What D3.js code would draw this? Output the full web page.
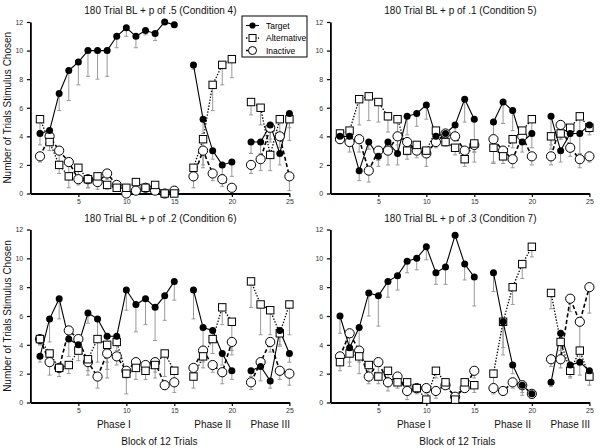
<!DOCTYPE html>
<html><head><meta charset="utf-8">
<script src="https://cdn.jsdelivr.net/npm/d3@7"></script>
<style>body{margin:0;background:#fff}svg{display:block;font-family:"Liberation Sans",Arial,sans-serif}</style>
</head><body><svg id="chart" width="600" height="448"></svg>
<script>
// ---------- data ----------
const blocks = [1,2,3,4,5,6,7,8,9,10,11,12,13,14,15,16,17,18,19,20,21,22,23,24,25];
const phaseOf = ["I","I","I","I","I","I","I","I","I","I","I","I","I","I","I","II","II","II","II","II","III","III","III","III","III"];
const phaseNames = ["Phase I","Phase II","Phase III"];
const xTickBlocks = [5,10,15,20,25];
const yTicks = [0,2,4,6,8,10,12];
const seriesNames = ["Target","Alternative","Inactive"];
const titles = ["180 Trial BL + p of .5 (Condition 4)","180 Trial BL + p of .1 (Condition 5)",
                "180 Trial BL + p of .2 (Condition 6)","180 Trial BL + p of .3 (Condition 7)"];

// Condition 4
const c4Target = [4.2,4.4,7.0,8.6,9.2,10.0,10.0,10.0,11.0,11.6,11.0,11.4,11.2,12.0,11.8, 9.0,5.2,3.0,2.0,2.2, 3.6,3.6,4.8,2.8,5.6];
const c4TargetErr = [0.8,0.8,1.2,2.1,1.6,1.8,2.0,1.8,0.8,0.6,0.8,0.3,0.5,0,0, 0.3,1.0,0.6,0.7,1.0, 0.8,0.8,1.0,0.8,1.0];
const c4Alt = [5.2,3.6,2.0,1.2,1.8,1.0,1.2,0.6,0.4,0.4,0.8,0.4,0.6,0,0, 1.8,3.8,7.6,9.0,9.4, 6.4,6.0,2.7,5.2,5.2];
const c4AltErr = [0.8,0.6,0.6,0.8,0.6,0.6,0.4,0.3,0.2,0.2,0.2,0.2,0.2,0,0, 0.5,1.8,1.8,1.4,1.3, 0.9,1.2,1.1,1.0,1.5];
const c4Inact = [2.6,4.0,3.0,2.2,1.0,1.0,0.8,1.4,0.6,0,0.2,0.4,0.2,0,0.2, 1.2,3.0,1.4,1.0,0.4, 2.0,2.4,4.6,4.0,1.2];
const c4InactErr = [0.4,0.5,0.8,0.9,0.4,0.6,0.5,0.4,0.3,0,0.1,0.1,0.1,0,0.1, 0.8,1.2,0.5,0.5,0.2, 0.6,0.8,1.0,0.8,1.0];

// Condition 5
const c5Target = [4.0,4.0,1.6,3.6,2.6,3.6,2.8,5.4,5.6,6.2,4.0,4.2,4.8,6.6,5.2, 5.0,6.4,5.8,3.6,4.2, 5.4,3.0,4.2,4.2,4.8];
const c5TargetErr = [0.5,0.5,0.7,0.5,0.7,0.8,0.8,1.3,0.9,1.0,0.4,0.3,1.1,1.6,3.0, 2.9,1.5,1.4,0.7,1.0, 2.3,0.8,0.8,1.4,0.5];
const c5Alt = [4.2,4.4,6.6,6.8,6.4,5.4,5.2,3.0,3.4,3.0,4.4,3.6,3.2,2.4,3.5, 3.2,2.6,3.8,4.4,5.2, 4.0,4.2,4.6,5.4,4.6];
const c5AltErr = [0.4,0.4,1.8,1.7,1.4,1.1,1.8,0.6,0.5,0.4,0.6,0.3,0.5,0.5,0.6, 1.1,0.5,0.6,0.6,0.8, 0.6,0.4,0.6,1.0,0.5];
const c5Inact = [3.8,3.6,3.8,1.6,3.0,3.0,4.0,3.6,3.0,2.8,3.6,4.2,4.0,3.0,3.4, 3.8,3.0,2.4,4.0,2.6, 2.6,4.8,3.2,2.4,2.6];
const c5InactErr = [0.3,0.7,0.9,0.8,0.7,1.0,1.2,0.9,0.5,0.9,0.4,0.3,0.3,0.6,0.5, 1.6,0.6,0.6,0.4,0.6, 0.6,1.0,0.6,0.6,0.4];

// Condition 6
const c6Target = [3.2,5.8,7.2,4.4,4.0,6.2,5.8,4.6,4.6,7.8,6.8,7.2,6.6,7.4,8.4, 7.8,5.2,5.0,3.4,2.2, 2.2,2.5,1.5,5.0,3.4];
const c6TargetErr = [0.4,1.6,1.4,1.2,0.6,0.7,1.2,1.8,0.4,1.4,1.9,1.8,2.3,1.7,1.3, 2.0,1.6,0.8,0.8,0.6, 0.4,1.0,0.5,1.0,0.6];
const c6Alt = [4.4,3.4,2.4,2.6,3.6,3.0,4.4,4.0,4.2,2.0,2.4,2.2,2.6,3.4,2.2, 1.8,3.2,4.4,6.6,5.6, 8.4,6.8,6.4,4.8,6.8];
const c6AltErr = [0.4,0.5,0.3,0.6,0.7,0.8,1.6,2.3,0.6,1.4,0.8,0.6,0.9,1.6,0.6, 0.8,0.8,1.0,1.2,2.0, 1.8,2.1,1.7,0.9,2.1];
const c6Inact = [4.4,2.8,2.4,5.0,4.4,2.8,1.8,3.4,3.2,2.2,2.8,2.6,2.8,1.2,1.4, 2.4,3.6,2.6,2.1,4.2, 1.4,2.8,4.2,2.2,2.0];
const c6InactErr = [0.4,0.9,0.6,0.5,0.5,0.9,0.8,1.1,0.6,0.5,0.6,0.6,0.7,0.3,0.7, 0.6,0.8,0.5,0.8,0.9, 0.5,0.5,0.7,0.6,0.8];

// Condition 7
const c7Target = [6.0,3.8,5.2,7.6,7.4,8.4,8.8,9.8,10.0,10.8,9.0,9.4,11.6,9.6,8.7, 9.0,5.6,2.6,1.2,0.6, 1.4,4.8,2.6,2.8,2.2];
const c7TargetErr = [1.2,1.3,1.5,1.6,2.1,1.1,1.0,0.8,0.8,0.9,0.8,1.2,0,1.1,2.0, 1.3,2.3,0.6,0.7,0.3, 0.3,1.2,0.8,0.9,0.5];
const c7Alt = [2.8,3.4,3.2,2.6,1.8,2.2,1.4,1.4,1.0,0.2,2.2,1.4,0.2,1.4,1.2, 2.0,5.6,8.0,9.6,10.8, 7.6,4.2,2.2,3.6,1.8];
const c7AltErr = [0.6,0.6,1.2,0.6,0.5,0.5,0.4,0.4,0.3,0.1,0.5,0.4,0.1,0.4,0.5, 0.8,1.8,1.2,1.0,0.7, 1.1,1.0,0.5,0.8,0.6];
const c7Inact = [3.2,4.8,3.6,1.8,2.8,1.4,1.8,0.8,1.0,1.0,0.8,1.2,0.4,1.0,2.2, 1.0,0.8,1.4,1.2,0.6, 3.0,3.0,7.2,5.6,8.0];
const c7InactErr = [0.5,0.8,0.8,0.5,0.7,0.6,0.5,0.6,0.4,0.4,0.5,0.3,0.1,0.3,0.5, 0.4,0.3,0.4,0.5,0.3, 0.5,0.6,0.9,1.9,1.8];

// ---------- build ----------
const panels = [
  {title: titles[0], s: [[c4Target,c4TargetErr],[c4Alt,c4AltErr],[c4Inact,c4InactErr]], col:0, row:0},
  {title: titles[1], s: [[c5Target,c5TargetErr],[c5Alt,c5AltErr],[c5Inact,c5InactErr]], col:1, row:0},
  {title: titles[2], s: [[c6Target,c6TargetErr],[c6Alt,c6AltErr],[c6Inact,c6InactErr]], col:0, row:1},
  {title: titles[3], s: [[c7Target,c7TargetErr],[c7Alt,c7AltErr],[c7Inact,c7InactErr]], col:1, row:1}
];

const svg = d3.select("#chart");
const phaseGap = {"I":0,"II":1,"III":2};
const xPos = b => b + phaseGap[phaseOf[b-1]];   // axis gap between phases
const lineStyles = [
  {dash:null, w:1.1},
  {dash:"1.4,1.6", w:1.3},
  {dash:"4,2.5", w:1.6}
];

panels.forEach(p => {
  const x0 = 30.4 + p.col*300;
  const x = d3.scaleLinear().domain([0, 27]).range([x0, x0 + 259]);
  const y = p.row === 0 ? d3.scaleLinear().domain([0,12]).range([193.5, 22])
                        : d3.scaleLinear().domain([0,12]).range([402.5, 229.5]);
  const g = svg.append("g");

  // axes
  const xAxis = d3.axisBottom(x).tickValues(xTickBlocks.map(xPos)).tickFormat((d,i) => xTickBlocks[i]).tickSize(3.5).tickSizeOuter(0);
  const yAxis = d3.axisLeft(y).tickValues(yTicks).tickSize(3.5).tickSizeOuter(0);
  const gx = g.append("g").attr("transform", `translate(0,${y(0)})`).call(xAxis);
  const gy = g.append("g").attr("transform", `translate(${x0},0)`).call(yAxis);
  [gx, gy].forEach(a => {
    a.select(".domain").attr("stroke", "#000").attr("stroke-width", 1.8);
    a.selectAll(".tick line").attr("stroke", "#000").attr("stroke-width", 1.2);
    a.selectAll(".tick text").attr("font-size", 7).attr("fill", "#333").attr("font-family", "Liberation Sans, Arial, sans-serif");
  });
  gx.selectAll(".tick text").attr("dy", "0.55em");
  gy.selectAll(".tick text").attr("dx", "-0.1em");

  // title
  g.append("text").attr("x", x0 + 130).attr("y", y(12) - 8).attr("text-anchor", "middle")
    .attr("font-size", 10).attr("fill", "#111").text(p.title);

  // error bars
  p.s.forEach(([vals, errs]) => {
    blocks.forEach((b, i) => {
      if (!errs[i]) return;
      const cx = x(xPos(b)), ya = y(vals[i]), yb = y(Math.max(0, vals[i] - errs[i]));
      g.append("line").attr("x1", cx).attr("x2", cx).attr("y1", ya).attr("y2", yb).attr("stroke", "#999").attr("stroke-width", 1);
      g.append("line").attr("x1", cx - 2).attr("x2", cx + 2).attr("y1", yb).attr("y2", yb).attr("stroke", "#999").attr("stroke-width", 1);
    });
  });

  // lines (broken between phases)
  const line = d3.line().x(d => x(xPos(d.b))).y(d => y(d.v));
  [2,1,0].forEach(si => {
    const vals = p.s[si][0];
    ["I","II","III"].forEach(ph => {
      const pts = blocks.filter(b => phaseOf[b-1] === ph).map(b => ({b, v: vals[b-1]}));
      g.append("path").attr("d", line(pts)).attr("fill", "none").attr("stroke", "#000")
        .attr("stroke-width", lineStyles[si].w).attr("stroke-dasharray", lineStyles[si].dash);
    });
  });

  // markers
  const inact = p.s[2][0], alt = p.s[1][0], targ = p.s[0][0];
  g.append("g").selectAll("circle").data(blocks).join("circle")
    .attr("cx", b => x(xPos(b))).attr("cy", b => y(inact[b-1])).attr("r", 4.6)
    .attr("fill", "#fff").attr("stroke", "#000").attr("stroke-width", 1);
  g.append("g").selectAll("rect").data(blocks).join("rect")
    .attr("x", b => x(xPos(b)) - 3.7).attr("y", b => y(alt[b-1]) - 3.7).attr("width", 7.4).attr("height", 7.4)
    .attr("fill", "#fff").attr("stroke", "#000").attr("stroke-width", 1);
  g.append("g").selectAll("circle").data(blocks).join("circle")
    .attr("cx", b => x(xPos(b))).attr("cy", b => y(targ[b-1])).attr("r", 3.5).attr("fill", "#000");

  // y label
  if (p.col === 0) {
    g.append("text").attr("transform", `translate(11,${(y(0)+y(12))/2}) rotate(-90)`)
      .attr("text-anchor", "middle").attr("font-size", 10).attr("fill", "#111")
      .text("Number of Trials Stimulus Chosen");
  }

  // phase labels & x title on bottom row
  if (p.row === 1) {
    const phaseCenters = [8.7, 19, 25];
    phaseNames.forEach((nm, i) => {
      g.append("text").attr("x", x(phaseCenters[i])).attr("y", 428).attr("text-anchor", "middle")
        .attr("font-size", 10).attr("fill", "#111").text(nm);
    });
    g.append("text").attr("x", x0 + 129 + p.col*-2).attr("y", 445).attr("text-anchor", "middle")
      .attr("font-size", 10).attr("fill", "#111").text("Block of 12 Trials");
  }
});

// legend
const lg = svg.append("g").attr("transform", "translate(242,16)");
lg.append("rect").attr("width", 65).attr("height", 41).attr("fill", "#fff").attr("stroke", "#000").attr("stroke-width", 1);
seriesNames.forEach((nm, i) => {
  const yy = 9.5 + i * 12.5;
  lg.append("line").attr("x1", 4).attr("x2", 17).attr("y1", yy).attr("y2", yy).attr("stroke", "#000")
    .attr("stroke-width", lineStyles[i].w).attr("stroke-dasharray", lineStyles[i].dash);
  if (i === 0) lg.append("circle").attr("cx", 10.5).attr("cy", yy).attr("r", 3.1).attr("fill", "#000");
  if (i === 1) lg.append("rect").attr("x", 7).attr("y", yy - 3.5).attr("width", 7).attr("height", 7).attr("fill", "#fff").attr("stroke", "#000");
  if (i === 2) lg.append("circle").attr("cx", 10.5).attr("cy", yy).attr("r", 4).attr("fill", "#fff").attr("stroke", "#000");
  lg.append("text").attr("x", 24).attr("y", yy + 3).attr("font-size", 8.5).text(nm);
});
</script></body></html>
